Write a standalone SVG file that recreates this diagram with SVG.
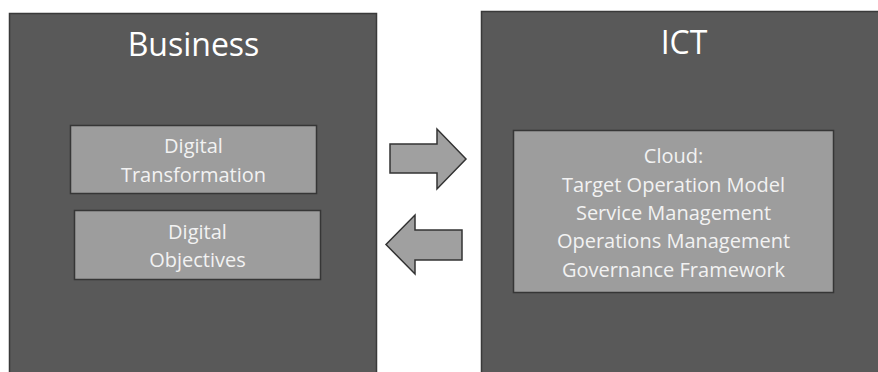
<svg xmlns="http://www.w3.org/2000/svg" width="878" height="372" viewBox="0 0 878 372">
<style>
.panel{fill:#595959;stroke:#3a3a3a;stroke-width:1.5}
.box{fill:#9d9d9d;stroke:#363636;stroke-width:1.5}
.arrow{fill:#a0a0a0;stroke:#333333;stroke-width:1.5;stroke-linejoin:miter}
.title{font-family:"Open Sans","Noto Sans",sans-serif;font-size:32px;fill:#ffffff;text-anchor:middle}
.lbl{font-family:"Open Sans","Noto Sans",sans-serif;font-size:20px;fill:#f2f2f2;text-anchor:middle}
</style>
<rect width="878" height="372" fill="#ffffff"/>
<g id="business">
<rect class="panel" x="9.5" y="13.5" width="367" height="370"/>
<text class="title" x="193.5" y="56">Business</text>
</g>
<g id="ict">
<rect class="panel" x="481.5" y="11.5" width="400" height="372"/>
<text class="title" x="684" y="54">ICT</text>
</g>
<g id="digital-transformation">
<rect class="box" x="70.5" y="125.5" width="246" height="68"/>
<text class="lbl" x="193.5" y="153">Digital</text>
<text class="lbl" x="193.5" y="181.5">Transformation</text>
</g>
<g id="digital-objectives">
<rect class="box" x="74.5" y="210.5" width="246" height="69"/>
<text class="lbl" x="197.5" y="238.5">Digital</text>
<text class="lbl" x="197.5" y="267">Objectives</text>
</g>
<g id="cloud">
<rect class="box" x="513.5" y="130.5" width="320" height="162"/>
<text class="lbl" x="673.5" y="163">Cloud:</text>
<text class="lbl" x="673.5" y="191.5">Target Operation Model</text>
<text class="lbl" x="673.5" y="220">Service Management</text>
<text class="lbl" x="673.5" y="248">Operations Management</text>
<text class="lbl" x="673.5" y="276.5">Governance Framework</text>
</g>
<g id="connectors">
<polygon class="arrow" points="390,144 437,144 437,129 466,159 437,189 437,173 390,173"/>
<polygon class="arrow" points="462,230 415,230 415,215 386,244.5 415,274 415,260 462,260"/>
</g>
</svg>
